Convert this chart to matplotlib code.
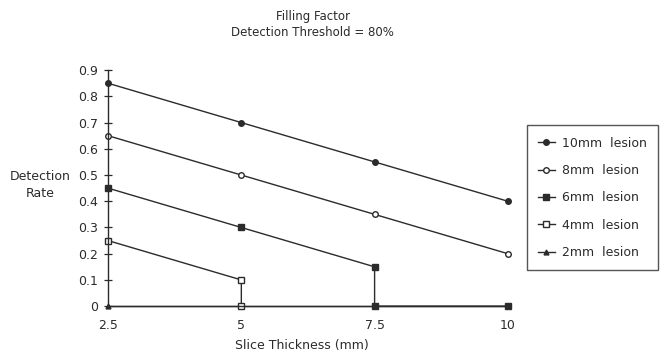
import matplotlib
matplotlib.use('Agg')
import matplotlib.pyplot as plt

# Detection rate vs slice thickness
x = [2.5, 5, 7.5, 10]
rate_10mm = [0.85, 0.70, 0.55, 0.40]
rate_8mm = [0.65, 0.50, 0.35, 0.20]
# 6mm and 4mm drop straight to zero, so they repeat an x value
x_6mm = [2.5, 5, 7.5, 7.5, 10]
rate_6mm = [0.45, 0.30, 0.15, 0.0, 0.0]
x_4mm = [2.5, 5, 5]
rate_4mm = [0.25, 0.10, 0.0]
rate_2mm = [0.0, 0.0, 0.0, 0.0]

labels = ['10mm  lesion', '8mm  lesion', '6mm  lesion', '4mm  lesion', '2mm  lesion']
yticks = [0, 0.1, 0.2, 0.3, 0.4, 0.5, 0.6, 0.7, 0.8, 0.9]
xticklabels = ['2.5', '5', '7.5', '10']

ink = '#2b2b2b'
plt.rcParams['font.family'] = ['DejaVu Sans']
plt.rcParams['text.color'] = ink

fig = plt.figure(figsize=(6.63, 3.56), dpi=100)
ax = fig.add_axes([0.163, 0.140, 0.603, 0.663])

kw = dict(color=ink, lw=1.0, clip_on=False)
ax.plot(x, rate_10mm, marker='o', ms=4, mfc=ink, mec=ink, label=labels[0], **kw)
ax.plot(x, rate_8mm, marker='o', ms=4, mfc='white', mec=ink, label=labels[1], **kw)
ax.plot(x_6mm, rate_6mm, marker='s', ms=4, mfc=ink, mec=ink, label=labels[2], **kw)
ax.plot(x_4mm, rate_4mm, marker='s', ms=4.5, mfc='white', mec=ink, label=labels[3], **kw)
ax.plot(x, rate_2mm, marker='^', ms=3.5, mfc=ink, mec=ink, label=labels[4], zorder=1, **kw)

ax.set_xlim(2.5, 10)
ax.set_ylim(0, 0.9)
ax.set_yticks(yticks)
ax.set_yticklabels(['0'] + ['%.1f' % v for v in yticks[1:]], fontsize=9, color=ink)
ax.set_xticks(x)
ax.set_xticklabels(xticklabels, fontsize=9, color=ink)
ax.tick_params(axis='y', direction='inout', length=6, width=0.9, color=ink, pad=4)
ax.tick_params(axis='x', length=0, pad=9)

for s in ['top', 'right']:
    ax.spines[s].set_visible(False)
for s in ['left', 'bottom']:
    ax.spines[s].set_color(ink)
    ax.spines[s].set_linewidth(1.0)

fig.text(0.060, 0.48, 'Detection\nRate', ha='center', va='center', fontsize=9,
         linespacing=1.4)
fig.text(0.455, 0.03, 'Slice Thickness (mm)', ha='center', va='center', fontsize=9)
fig.text(0.472, 0.955, 'Filling Factor', ha='center', va='center', fontsize=8.5)
fig.text(0.472, 0.91, 'Detection Threshold = 80%', ha='center', va='center', fontsize=8.5)

leg = ax.legend(loc='upper left', bbox_to_anchor=(0.795, 0.648),
                bbox_transform=fig.transFigure, frameon=True, fancybox=False,
                fontsize=9, handlelength=1.3, handletextpad=0.6,
                labelspacing=1.15, borderpad=0.9, borderaxespad=0)
leg.get_frame().set_edgecolor(ink)
leg.get_frame().set_linewidth(1.0)

fig.savefig('out.png', dpi=100)
